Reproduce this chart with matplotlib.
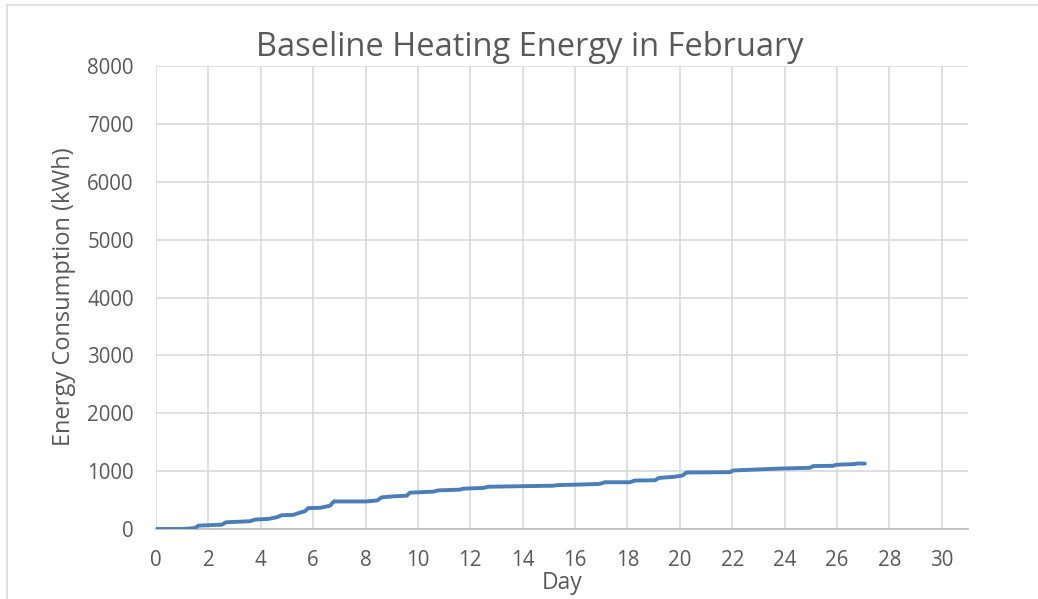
import matplotlib
matplotlib.use("Agg")
import matplotlib.pyplot as plt
from matplotlib.lines import Line2D

plt.rcParams['font.family'] = ['Open Sans', 'DejaVu Sans']

# Data (cumulative heating energy, kWh)
day = [0.0, 1.04, 1.49, 1.62, 2.51, 2.67, 3.59, 3.78, 4.29, 4.61, 4.80, 5.24, 5.43,
       5.69, 5.81, 6.26, 6.64, 6.79, 8.04, 8.45, 8.61, 9.06, 9.57, 9.69, 10.58,
       10.78, 11.60, 11.73, 12.49, 12.68, 14.0, 15.2, 15.3, 16.0, 16.9, 17.01,
       17.14, 18.09, 18.28, 19.05, 19.21, 19.74, 20.10, 20.25, 21.91, 22.03,
       22.93, 23.94, 24.96, 25.09, 25.85, 25.98, 26.62, 26.81, 27.06]
energy = [0, 0, 17, 58, 75, 116, 134, 163, 174, 203, 238, 244, 273,
          308, 360, 366, 401, 476, 476, 494, 546, 564, 575, 628, 645,
          668, 680, 697, 709, 730, 740, 748, 758, 766, 778, 788,
          808, 808, 837, 842, 883, 900, 924, 976, 982, 1011,
          1028, 1046, 1057, 1087, 1092, 1110, 1121, 1133, 1130]

title = "Baseline Heating Energy in February"
x_label = "Day"
y_label = "Energy Consumption (kWh)"
x_ticks = list(range(0, 31, 2))
y_ticks = list(range(0, 8001, 1000))

W, H = 1038, 599
fig = plt.figure(figsize=(W / 100, H / 100), dpi=100)
ax = fig.add_axes([156 / W, 1 - 529 / H, (968 - 156) / W, (529 - 66) / H])

txt = '#595959'
grid = '#d9d9d9'

ax.plot(day, energy, color='#4A7EBB', lw=2.8, solid_capstyle='round',
        solid_joinstyle='round', zorder=3)

ax.set_xlim(0, 31)
ax.set_ylim(0, 8000)
ax.set_xticks(x_ticks)
ax.set_yticks(y_ticks)
ax.set_xticklabels([str(t) for t in x_ticks])
ax.set_yticklabels([str(t) for t in y_ticks])
ax.grid(True, color=grid, lw=1.2)
ax.set_axisbelow(True)
for s in ['top', 'right', 'left']:
    ax.spines[s].set_visible(False)
ax.spines['bottom'].set_color('#bfbfbf')
ax.spines['bottom'].set_linewidth(1.3)
ax.tick_params(axis='both', length=0, labelsize=14.8, colors=txt)
ax.tick_params(axis='x', pad=15)
ax.tick_params(axis='y', pad=16)

fig.text(529.5 / W, 1 - 48 / H, title, ha='center', va='center',
         fontsize=23.5, color=txt)
fig.text(562 / W, 1 - 589 / H, x_label, ha='center', va='baseline',
         fontsize=16.5, color=txt)
fig.text(70 / W, 1 - 297 / H, y_label, ha='center', va='baseline',
         rotation=90, rotation_mode='anchor', fontsize=17, color=txt)

# chart-area outline (partially visible in the reference)
fig.add_artist(Line2D([7.3 / W, 1.0], [1 - 4.5 / H, 1 - 4.5 / H],
                      transform=fig.transFigure, color='#d9d9d9', lw=1.2))
fig.add_artist(Line2D([7.3 / W, 7.3 / W], [0, 1 - 4.5 / H],
                      transform=fig.transFigure, color='#d9d9d9', lw=1.2))

fig.savefig('out.png', dpi=100)
